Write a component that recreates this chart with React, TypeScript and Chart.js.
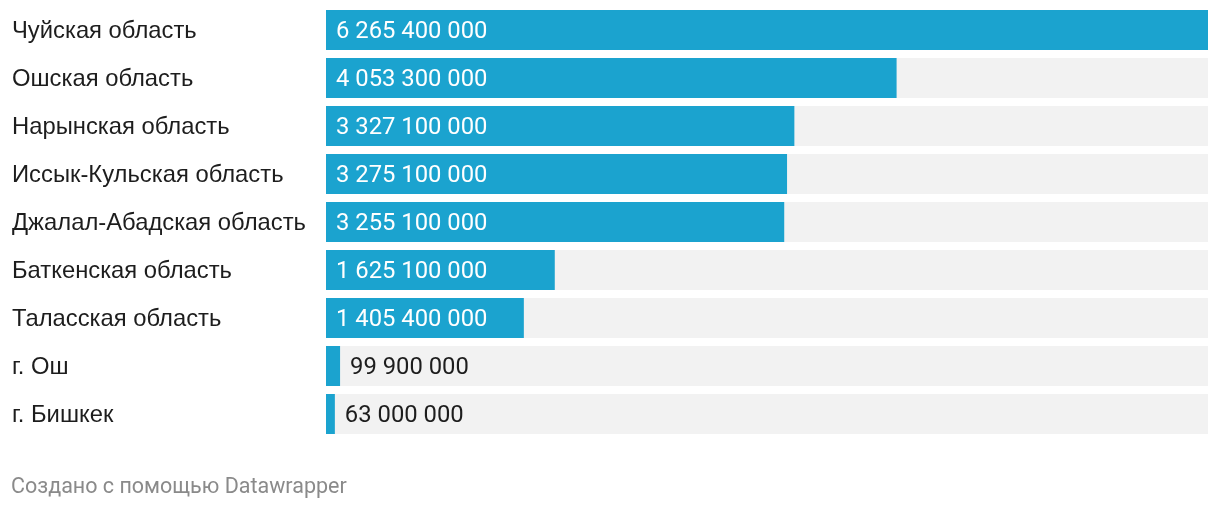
import React, { useEffect, useRef } from "react";
import { Chart, registerables } from "chart.js";

Chart.register(...registerables);

const categories = [
  "Чуйская область",
  "Ошская область",
  "Нарынская область",
  "Иссык-Кульская область",
  "Джалал-Абадская область",
  "Баткенская область",
  "Таласская область",
  "г. Ош",
  "г. Бишкек",
];
const values = [6265400000, 4053300000, 3327100000, 3275100000, 3255100000, 1625100000, 1405400000, 99900000, 63000000];
const valueLabels = ["6 265 400 000", "4 053 300 000", "3 327 100 000", "3 275 100 000", "3 255 100 000", "1 625 100 000", "1 405 400 000", "99 900 000", "63 000 000"];
const footerText = "Создано с помощью Datawrapper";

const maxValue = Math.max(...values);
const backgroundValues = categories.map(() => maxValue);

const BAR_COLOR = "#1ba3cf";
const BG_COLOR = "#f2f2f2";

const labelsPlugin = {
  id: "dwLabels",
  afterDatasetsDraw(chart: any) {
    const ctx = chart.ctx;
    const y = chart.scales.y;
    const meta = chart.getDatasetMeta(1);
    ctx.save();
    ctx.textBaseline = "middle";
    categories.forEach((c, i) => {
      const py = y.getPixelForValue(i);
      ctx.font = '23.8px "Liberation Sans", Arial, sans-serif';
      ctx.fillStyle = "#1d1d1d";
      ctx.textAlign = "left";
      ctx.fillText(c, 12, py + 1.5);
      const bar = meta.data[i];
      ctx.font = '23.8px Roboto, sans-serif';
      const w = ctx.measureText(valueLabels[i]).width;
      const barW = bar.x - bar.base;
      if (barW > w + 20) {
        ctx.fillStyle = "#ffffff";
        ctx.fillText(valueLabels[i], bar.base + 10, py + 2);
      } else {
        ctx.fillStyle = "#1d1d1d";
        ctx.fillText(valueLabels[i], bar.x + 10, py + 2);
      }
    });
    ctx.font = '21.5px Roboto, sans-serif';
    ctx.fillStyle = "#8a8a8a";
    ctx.fillText(footerText, 11, 488);
    ctx.restore();
  },
};

export default function App() {
  const ref = useRef<HTMLCanvasElement>(null);
  useEffect(() => {
    if (!ref.current) return;
    const chart = new Chart(ref.current, {
      type: "bar",
      data: {
        labels: categories,
        datasets: [
          {
            data: backgroundValues,
            backgroundColor: BG_COLOR,
            grouped: false,
            order: 2,
            barPercentage: 40 / 48,
            categoryPercentage: 1,
          } as any,
          {
            data: values,
            backgroundColor: BAR_COLOR,
            grouped: false,
            order: 1,
            barPercentage: 40 / 48,
            categoryPercentage: 1,
          } as any,
        ],
      },
      options: {
        indexAxis: "y",
        animation: false,
        responsive: false,
        maintainAspectRatio: false,
        events: [],
        layout: { padding: { left: 326, right: 12, top: 6, bottom: 72 } },
        scales: {
          x: { display: false, min: 0, max: maxValue },
          y: { display: false, offset: true },
        },
        plugins: { legend: { display: false }, tooltip: { enabled: false } },
      },
      plugins: [labelsPlugin],
    });
    return () => chart.destroy();
  }, []);
  return (
    <div style={{ position: "absolute", left: 0, top: 0, width: 1220, height: 510, background: "#fff" }}>
      <canvas ref={ref} width={1220} height={510} style={{ width: 1220, height: 510 }} />
    </div>
  );
}
